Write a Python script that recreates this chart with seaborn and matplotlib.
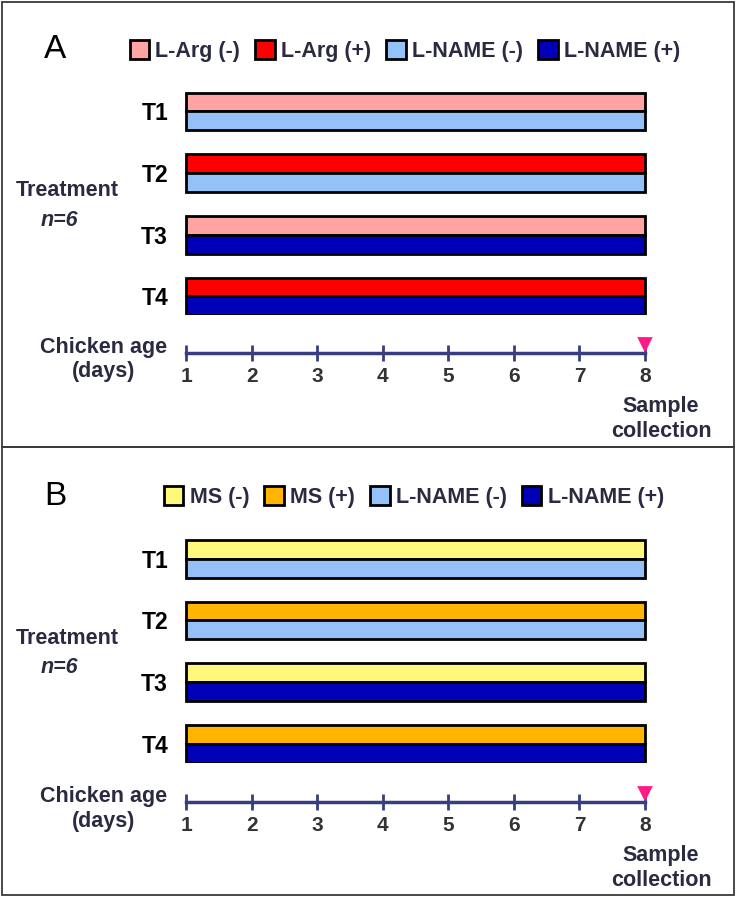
import matplotlib
matplotlib.use('Agg')
import matplotlib.pyplot as plt
import seaborn as sns
import pandas as pd
from matplotlib.patches import Rectangle

# ---------------- data ----------------
days = [1, 2, 3, 4, 5, 6, 7, 8]
treatments = ['T1', 'T2', 'T3', 'T4']
start_day = [1, 1, 1, 1]
end_day = [8, 8, 8, 8]
sample_day = 8
top_status = ['-', '+', '-', '+']
bottom_status = ['-', '-', '+', '+']
panel_labels = ['A', 'B']
top_agents = ['L-Arg', 'MS']
bottom_agent = 'L-NAME'
group_n = 'n=6'

colors = {
    'L-Arg (-)': '#ffa3a3',
    'L-Arg (+)': '#ff0000',
    'MS (-)': '#fff87c',
    'MS (+)': '#ffb400',
    'L-NAME (-)': '#94c1f7',
    'L-NAME (+)': '#0000b8',
}

# ---------------- style ----------------
sns.set_style('white')
plt.rcParams['font.family'] = ['Liberation Sans', 'DejaVu Sans']

W, H = 738, 897
fig = plt.figure(figsize=(W / 100, H / 100), dpi=100)


def fr(x0, y0, x1, y1):
    return [x0 / W, 1 - y1 / H, (x1 - x0) / W, (y1 - y0) / H]


def fp(x, y):
    return (x / W, 1 - y / H)


TXT = '#2a2a40'
NAVY = '#363e80'
PINK = '#ff1a84'
X0, X1 = 186, 645
pxday = (X1 - X0) / (days[-1] - days[0])
GROUP = 3.28
STRIPE_PX = 18.8

bar_top = [92.7, 540]
legend_y = [51, 497]
legend_x = [405, 414]
line_y = [353, 802]
oys = [0, 447]

for p, (lab, agent) in enumerate(zip(panel_labels, top_agents)):
    oy = oys[p]
    rows = []
    for k, t in enumerate(treatments):
        pair = [(agent, top_status[k]), (bottom_agent, bottom_status[k])]
        for s, (ag, st) in enumerate(pair):
            rows.append(dict(treatment=t, ypos=k * GROUP + s,
                             component=f'{ag} ({st})',
                             duration=end_day[k] - start_day[k]))
    df = pd.DataFrame(rows)
    hue_order = [f'{agent} (-)', f'{agent} (+)',
                 f'{bottom_agent} (-)', f'{bottom_agent} (+)']

    xm, ylo, yhi = 0.2, -1.0, 3 * GROUP + 1.5
    top_px = bar_top[p] - (-0.5 - ylo) * STRIPE_PX
    bot_px = top_px + (yhi - ylo) * STRIPE_PX
    ax = fig.add_axes(fr(X0 - xm * pxday, top_px, X1 + xm * pxday, bot_px))
    ax.set_facecolor('none')
    sns.barplot(data=df, x='duration', y='ypos', hue='component',
                hue_order=hue_order, palette=colors, orient='h',
                native_scale=True, dodge=False, width=1.0, saturation=1,
                edgecolor='black', linewidth=2, ax=ax)
    ax.set_xlim(-xm, days[-1] - days[0] + xm)
    ax.set_ylim(yhi, ylo)
    ax.set_yticks([k * GROUP + 0.5 for k in range(len(treatments))], treatments)
    ax.set_xticks([])
    ax.set_xlabel('')
    ax.set_ylabel('')
    ax.tick_params(axis='y', length=0, pad=3.5, labelsize=16.5)
    for tl_ in ax.get_yticklabels():
        tl_.set_fontweight('bold')
        tl_.set_color('black')
    for sp in ax.spines.values():
        sp.set_visible(False)

    sns.move_legend(ax, 'center', bbox_to_anchor=fp(legend_x[p], legend_y[p]),
                    bbox_transform=fig.transFigure, ncol=4, frameon=False,
                    title=None, prop={'weight': 'bold', 'size': 15.5},
                    handlelength=0.9, handleheight=0.95, handletextpad=0.3,
                    columnspacing=0.7, labelcolor=TXT, borderpad=0,
                    borderaxespad=0)

    # timeline
    ly = line_y[p]
    tl = fig.add_axes(fr(X0, ly - 28, X1, ly))
    tl.set_facecolor('none')
    tl.set_xlim(0, days[-1] - days[0])
    tl.set_ylim(0, 1)
    for side in ['top', 'left', 'right']:
        tl.spines[side].set_visible(False)
    tl.spines['bottom'].set_color(NAVY)
    tl.spines['bottom'].set_linewidth(2.5)
    tl.set_xticks([d - days[0] for d in days], [str(d) for d in days])
    tl.set_yticks([])
    tl.tick_params(axis='x', bottom=True, direction='inout', length=12,
                   width=2, color=NAVY, labelsize=15, labelcolor='#333333',
                   pad=4)
    for t_ in tl.get_xticklabels():
        t_.set_fontweight('bold')
    sns.scatterplot(x=[sample_day - days[0]], y=[0.29], marker='v', s=125,
                    color=PINK, edgecolor='none', ax=tl, clip_on=False,
                    legend=False)
    tl.set_xlabel('')
    tl.set_ylabel('')

    # texts
    fig.text(*fp(55, 49 + oy), lab, fontsize=24, color='black',
             ha='center', va='center')
    fig.text(*fp(67, 191 + oy), 'Treatment', fontsize=15.5, fontweight='bold',
             color=TXT, ha='center', va='center')
    fig.text(*fp(59, 220 + oy), group_n, fontsize=15.5, fontweight='bold',
             fontstyle='italic', color=TXT, ha='center', va='center')
    fig.text(*fp(104, ly - 6), 'Chicken age', fontsize=15.5, fontweight='bold',
             color=TXT, ha='center', va='center')
    fig.text(*fp(104, ly + 19), '(days)', fontsize=15.5, fontweight='bold',
             color=TXT, ha='center', va='center')
    fig.text(*fp(661, ly + 53), 'Sample', fontsize=15.5, fontweight='bold',
             color=TXT, ha='center', va='center')
    fig.text(*fp(661, ly + 78), 'collection', fontsize=15.5, fontweight='bold',
             color=TXT, ha='center', va='center')

# panel borders
for (y0, y1) in [(2, 447.5), (447.5, 895)]:
    x0, yb, w, h = fr(2, y0, 734, y1)
    fig.add_artist(Rectangle((x0, yb), w, h, transform=fig.transFigure,
                             fill=False, edgecolor='#3a3a3a', linewidth=1.3))

fig.savefig('out.png', dpi=100)
